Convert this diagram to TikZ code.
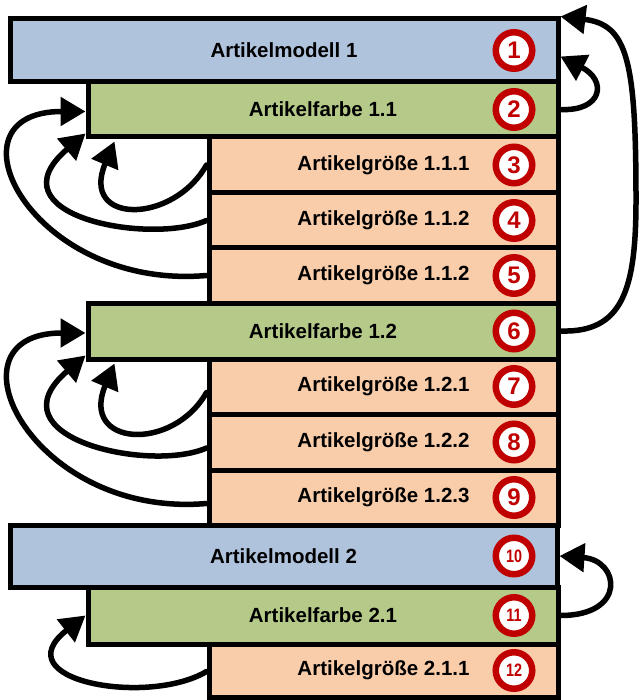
\documentclass[tikz,border=0pt]{standalone}
\usepackage{fontspec}
\usepackage{graphicx}
\setmainfont{Liberation Sans}
\usetikzlibrary{arrows.meta}
\definecolor{mblue}{HTML}{B0C3DD}
\definecolor{fgreen}{HTML}{B5CA88}
\definecolor{gorange}{HTML}{FACDAA}
\definecolor{numred}{HTML}{C00000}
\newcommand{\smallnum}[1]{\scalebox{0.8}[1]{\fontsize{18}{18}\selectfont #1}}
\begin{document}
\begin{tikzpicture}[x=1pt,y=-1pt,
  box/.style={draw=black, line width=5pt, inner sep=0pt,
    font=\fontsize{20.5}{24}\selectfont\bfseries},
  mbox/.style={box, fill=mblue, minimum width=548pt},
  fbox/.style={box, fill=fgreen, minimum width=470pt},
  gbox/.style={box, fill=gorange, minimum width=349pt},
  num/.style={circle, draw=numred, fill=white, line width=6.5pt,
    minimum size=36.5pt, inner sep=0pt, text=numred,
    font=\fontsize{24}{24}\selectfont\bfseries},
  arr/.style={line width=5.5pt, line cap=round,
    -{Triangle[length=25pt,width=28pt]}},
]
\useasboundingbox (0,0) rectangle (641,700);

% boxes
\node[mbox, minimum height=63pt] (m1) at (284,50.5) {Artikelmodell 1};
\node[fbox, minimum height=55pt] (f1) at (323,109.5) {Artikelfarbe 1.1};
\node[gbox, minimum height=56pt] (g3) at (383.5,165) {Artikelgröße 1.1.1};
\node[gbox, minimum height=55pt] (g4) at (383.5,220.5) {Artikelgröße 1.1.2};
\node[gbox, minimum height=55pt] (g5) at (383.5,275.5) {Artikelgröße 1.1.2};
\node[fbox, minimum height=56pt] (f2) at (323,331) {Artikelfarbe 1.2};
\node[gbox, minimum height=55pt] (g7) at (383.5,386.5) {Artikelgröße 1.2.1};
\node[gbox, minimum height=56pt] (g8) at (383.5,442) {Artikelgröße 1.2.2};
\node[gbox, minimum height=55pt] (g9) at (383.5,497.5) {Artikelgröße 1.2.3};
\node[mbox, minimum height=62pt, minimum width=547pt] (m2) at (283.5,556) {Artikelmodell 2};
\node[fbox, minimum height=57pt] (f3) at (323,615.5) {Artikelfarbe 2.1};
\node[gbox, minimum height=53pt] (g12) at (383.5,670.5) {Artikelgröße 2.1.1};

% number circles
\node[num] (n1) at (514,50.5) {1};
\node[num] (n2) at (514,109.5) {2};
\node[num] (n3) at (514,165) {3};
\node[num] (n4) at (514,220.5) {4};
\node[num] (n5) at (514,275.5) {5};
\node[num] (n6) at (514,331) {6};
\node[num] (n7) at (514,386.5) {7};
\node[num] (n8) at (514,442) {8};
\node[num] (n9) at (514,497.5) {9};
\node[num] (n10) at (514,556) {\smallnum{10}};
\node[num] (n11) at (514,615.5) {\smallnum{11}};
\node[num] (n12) at (514,670.5) {\smallnum{12}};

% left arrows, group 1
\draw[arr] (g3.west) .. controls +(-34,60) and +(-35,83) .. ([xshift=29pt,yshift=-2pt]f1.south west);
\draw[arr] (g4.west) .. controls +(-57,25) and +(-96,82) .. ([yshift=6pt]f1.south west);
\draw[arr] (g5.west) .. controls +(-175,15) and +(-145,0) .. ([yshift=-2pt]f1.west);

% left arrows, group 2
\draw[arr] ([yshift=-6pt]g7.west) .. controls +(-34,60) and +(-35,83) .. ([xshift=29pt,yshift=-2pt]f2.south west);
\draw[arr] ([yshift=-6pt]g8.west) .. controls +(-57,25) and +(-96,82) .. ([yshift=6pt]f2.south west);
\draw[arr] ([yshift=-6pt]g9.west) .. controls +(-175,15) and +(-145,0) .. ([yshift=-2pt]f2.west);

% left arrow, group 3
\draw[arr] ([yshift=-1pt]g12.west) .. controls +(-59,35) and +(-83,65) .. (f3.west);

% right arrows
\draw[arr] (f1.east) .. controls +(42,2) and +(47,24) .. ([yshift=-6pt]m1.east);
\coordinate (r2mid) at (636,200);
\draw[arr] (f2.east) .. controls +(62,2) and +(0,90) .. (r2mid)
  .. controls +(0,-140) and +(67,8) .. (m1.north east);
\draw[arr] (f3.east) .. controls +(67,0) and +(60,4) .. (m2.east);
\end{tikzpicture}
\end{document}
